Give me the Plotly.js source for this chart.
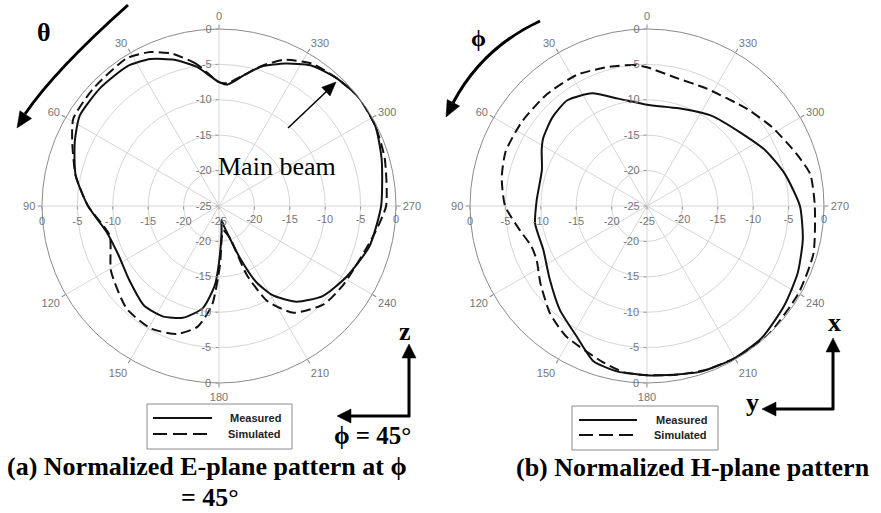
<!DOCTYPE html>
<html><head><meta charset="utf-8">
<script src="https://cdn.plot.ly/plotly-3.0.1.min.js"></script>
<style>html,body{margin:0;padding:0;background:#fff;}#chart{width:881px;height:513px;}</style>
</head><body><div id="chart"></div>
<script>
// ---------- data (dB, normalized) ----------
const thetaEMeasured = [0, 5, 9, 17, 25, 33, 45, 57, 66, 78, 90, 103, 116, 129, 143, 153, 162, 171, 177, 181, 186, 190, 194, 197, 202, 206, 211, 219, 229, 241, 255, 270, 286, 297, 308, 318, 327, 335, 343, 349, 356, 360];
const rEMeasured     = [-7.5, -6.3, -5.1, -3.4, -2.1, -1.4, -1.35, -1.55, -2.7, -4.3, -6.5, -8.7, -9.2, -8.6, -7.4, -7.5, -8.4, -10.4, -13.8, -18, -21.5, -23, -22, -21, -17, -13.1, -10.3, -7.6, -5.6, -4.4, -3.0, -2.1, -1.1, -0.2, 0, -0.5, -1.3, -2.8, -4.4, -6.15, -7.8, -7.5];
const thetaESimulated = [0, 9, 17, 24, 32, 47, 59, 66, 78, 90, 105, 121, 138, 151, 162, 170, 176, 181, 185, 190, 195, 199, 202, 207, 215, 227, 238, 259, 270, 286, 297, 308, 318, 327, 336, 343, 349, 356, 360];
const rESimulated     = [-7.5, -4.7, -2.5, -1.2, -0.4, -0.7, -1.0, -2.3, -4.3, -6.5, -9.0, -7.2, -5.5, -5.2, -6.0, -7.7, -11, -16.7, -20.5, -21.5, -21, -20.2, -14.5, -9.9, -6.6, -4.7, -4.2, -2.8, -1.4, -0.65, -0.2, 0, -0.5, -1.0, -2.4, -4.3, -6.1, -7.6, -7.5];

const phiHMeasured = [0, 15, 26, 37, 47, 57, 62, 71, 87, 99, 113, 127, 140, 152, 161, 170, 180, 187, 198, 210, 221, 234, 246, 258, 270, 283, 295, 309, 324, 342, 360];
const rHMeasured   = [-10.7, -9.3, -7.3, -6.3, -6.7, -7.5, -8.15, -9.3, -9.4, -9.0, -9.1, -7.8, -5.85, -4.0, -1.8, -1.25, -1.1, -0.95, -0.4, -0.2, -0.3, -1.05, -1.7, -2.5, -3.4, -5.0, -6.5, -8.3, -9.3, -10.5, -10.7];
const phiHSimulated = [0, 5, 16, 28, 42, 56, 69, 79, 90, 101, 109, 116, 126, 138, 148, 164, 172, 180, 190, 200, 210, 223, 240, 254, 270, 281, 289, 302, 314, 333, 348, 360];
const rHSimulated   = [-5.4, -5.0, -4.6, -4.0, -3.8, -3.7, -3.6, -4.1, -4.95, -6.75, -7.7, -7.65, -6.4, -4.55, -3.35, -2.1, -1.3, -1.1, -0.8, -0.4, -0.2, 0, -0.3, -0.55, -1.3, -1.5, -2.6, -4.1, -5.3, -6.4, -6.4, -5.4];

const angleTicks = [0, 30, 60, 90, 120, 150, 180, 210, 240, 270, 300, 330];
const angleLabels = ['0', '30', '60', '90', '120', '150', '180', '210', '240', '270', '300', '330'];
const radialTicks = [-25, -20, -15, -10, -5, 0];
const radialLabels = ['-25', '-20', '-15', '-10', '-5', '0'];
const radialTicksNoCenter = [-20, -15, -10, -5, 0];
const radialLabelsNoCenter = ['-20', '-15', '-10', '-5', '0'];

const seriesNames = ['Measured', 'Simulated'];

// ---------- layout helpers ----------
const W = 881, H = 513;
const px = x => x / W, py = y => 1 - y / H;
const GRAY = '#757575';
const tickFont = {family: 'Liberation Sans, Arial, sans-serif', size: 11, color: GRAY};

const domLeft  = {x: [px(42), px(396)], y: [py(383), py(29)]};
const domRight = {x: [px(470), px(824)], y: [py(383), py(29)]};

function mainPolar(dom) {
  return {
    domain: dom, bgcolor: '#ffffff',
    angularaxis: {rotation: 90, direction: 'counterclockwise', tickvals: angleTicks, ticktext: angleLabels,
      tickfont: tickFont, showline: true, linecolor: '#8a8a8a', linewidth: 1, gridcolor: '#d6d6d6', gridwidth: 1,
      ticks: 'outside', ticklen: 4, tickcolor: '#8a8a8a'},
    radialaxis: {range: [-25, 0], angle: 90, side: 'counterclockwise', tickvals: radialTicks, ticktext: radialLabels,
      tickfont: tickFont, showline: false, gridcolor: '#d6d6d6', gridwidth: 1, ticks: 'outside', ticklen: 3, tickcolor: '#999',
      tickangle: 90}
  };
}
function overlayPolar(dom, angle, side, vals, labels, tickangle) {
  return {
    domain: dom, bgcolor: 'rgba(0,0,0,0)',
    angularaxis: {rotation: 90, direction: 'counterclockwise', showgrid: false, showline: false, showticklabels: false, ticks: ''},
    radialaxis: {range: [-25, 0], angle: angle, side: side, tickvals: vals, ticktext: labels, tickfont: tickFont,
      showline: false, showgrid: false, ticks: 'outside', ticklen: 3, tickcolor: '#999', tickangle: tickangle}
  };
}

const solid = {color: '#111', width: 2, dash: 'solid', shape: 'spline', smoothing: 0.6};
const dashed = {color: '#111', width: 2, dash: '10px,5px', shape: 'spline', smoothing: 0.6};

const traces = [
  {type: 'scatterpolar', subplot: 'polar', mode: 'lines', r: rEMeasured, theta: thetaEMeasured, name: seriesNames[0], line: solid},
  {type: 'scatterpolar', subplot: 'polar', mode: 'lines', r: rESimulated, theta: thetaESimulated, name: seriesNames[1], line: dashed},
  {type: 'scatterpolar', subplot: 'polar5', mode: 'lines', r: rHMeasured, theta: phiHMeasured, name: seriesNames[0], line: solid},
  {type: 'scatterpolar', subplot: 'polar5', mode: 'lines', r: rHSimulated, theta: phiHSimulated, name: seriesNames[1], line: dashed}
];
['polar2', 'polar3', 'polar4', 'polar6', 'polar7', 'polar8'].forEach(s => {
  traces.push({type: 'scatterpolar', subplot: s, mode: 'lines', r: [-25], theta: [0], showlegend: false, hoverinfo: 'skip', line: {width: 0}});
});

// decoration helpers (pixel positions)
function tri(tip, from, len, hw) {
  const dx = tip[0] - from[0], dy = tip[1] - from[1], d = Math.hypot(dx, dy);
  const ux = dx / d, uy = dy / d;
  const bx = tip[0] - ux * len, by = tip[1] - uy * len;
  const p1 = [bx - uy * hw, by + ux * hw], p2 = [bx + uy * hw, by - ux * hw];
  return `M${px(tip[0])},${py(tip[1])} L${px(p1[0])},${py(p1[1])} L${px(p2[0])},${py(p2[1])} Z`;
}
function seg(a, b, w, dash, color) {
  return {type: 'line', xref: 'paper', yref: 'paper', x0: px(a[0]), y0: py(a[1]), x1: px(b[0]), y1: py(b[1]),
    line: {color: color || '#000', width: w, dash: dash || 'solid'}};
}
function pathShape(d, fill, w) {
  return {type: 'path', xref: 'paper', yref: 'paper', path: d, fillcolor: fill ? '#000' : 'rgba(0,0,0,0)', line: {color: '#000', width: w}};
}
function quad(a, c, b) {
  return `M${px(a[0])},${py(a[1])} Q${px(c[0])},${py(c[1])} ${px(b[0])},${py(b[1])}`;
}
function box(x0, y0, x1, y1) {
  return {type: 'rect', xref: 'paper', yref: 'paper', x0: px(x0), y0: py(y0), x1: px(x1), y1: py(y1),
    fillcolor: '#fff', line: {color: '#8a8a8a', width: 1}};
}

const legendBoxes = [
  {x0: 147, y0: 404, x1: 292, y1: 449, lx0: 153, lx1: 212, tx: 283, y: [418, 434]},
  {x0: 572, y0: 406, x1: 718, y1: 450, lx0: 579, lx1: 637, tx: 709, y: [420, 435]}
];

const shapes = [
  // theta rotation arrow
  pathShape(quad([128, 5], [55, 70], [25, 114]), false, 3),
  pathShape(tri([17, 128], [55, 70], 16, 7), true, 0.5),
  // phi rotation arrow
  pathShape(quad([540, 21], [482, 48], [453, 103]), false, 3),
  pathShape(tri([446, 117], [482, 48], 16, 7), true, 0.5),
  // main beam arrow
  seg([288, 128], [327, 91], 1.5),
  pathShape(tri([336, 82], [288, 128], 14, 6), true, 0.5),
  // z / phi coordinate arrows (left)
  seg([409, 417], [409, 355], 3),
  pathShape(tri([409, 344], [409, 417], 14, 7), true, 0.5),
  seg([410, 416], [348, 416], 3),
  pathShape(tri([337, 416], [410, 416], 14, 7), true, 0.5),
  // x / y coordinate arrows (right)
  seg([833, 410], [833, 350], 3),
  pathShape(tri([833, 338], [833, 410], 14, 7), true, 0.5),
  seg([834, 409], [773, 409], 3),
  pathShape(tri([762, 409], [834, 409], 14, 7), true, 0.5)
];
legendBoxes.forEach(b => {
  shapes.push(box(b.x0, b.y0, b.x1, b.y1));
  shapes.push(seg([b.lx0, b.y[0]], [b.lx1, b.y[0]], 1.8, 'solid', '#111'));
  shapes.push(seg([b.lx0, b.y[1]], [b.lx1, b.y[1]], 1.8, '14px,6px', '#111'));
});

const serif = 'Liberation Serif, Times New Roman, serif';
function txt(t, x, y, size, bold, anchor, family, color) {
  return {text: t, xref: 'paper', yref: 'paper', x: px(x), y: py(y), xanchor: anchor || 'center', yanchor: 'middle', showarrow: false,
    font: {family: family || serif, size: size, color: color || '#000', weight: bold ? 'bold' : 'normal'}};
}
const legendFont = 'Liberation Sans, Arial, sans-serif';
const annotations = [
  txt('θ', 44, 32, 26, true),
  txt('ϕ', 478, 38, 24, true),
  txt('Main beam', 277, 166, 26, false),
  txt('z', 405, 331, 26, true),
  txt('ϕ = 45°', 372, 435, 25, true),
  txt('x', 834, 322, 26, true),
  txt('y', 752, 402, 26, true),
  txt('(a) Normalized E-plane pattern at ϕ', 207, 466, 26, true),
  txt('= 45°', 210, 497, 26, true),
  txt('(b) Normalized H-plane pattern', 693, 467, 26, true)
];
legendBoxes.forEach(b => {
  annotations.push(txt(seriesNames[0], b.tx, b.y[0], 11, true, 'right', legendFont, '#222'));
  annotations.push(txt(seriesNames[1], b.tx, b.y[1], 11, true, 'right', legendFont, '#222'));
});

const layout = {
  width: W, height: H, margin: {l: 0, r: 0, t: 0, b: 0}, paper_bgcolor: '#fff', showlegend: false,
  polar: mainPolar(domLeft),
  polar2: overlayPolar(domLeft, 270, 'clockwise', radialTicksNoCenter, radialLabelsNoCenter, -90),
  polar3: overlayPolar(domLeft, 180, 'counterclockwise', radialTicks, radialLabels, 180),
  polar4: overlayPolar(domLeft, 0, 'clockwise', radialTicksNoCenter, radialLabelsNoCenter, 0),
  polar5: mainPolar(domRight),
  polar6: overlayPolar(domRight, 270, 'clockwise', radialTicksNoCenter, radialLabelsNoCenter, -90),
  polar7: overlayPolar(domRight, 180, 'counterclockwise', radialTicks, radialLabels, 180),
  polar8: overlayPolar(domRight, 0, 'clockwise', radialTicksNoCenter, radialLabelsNoCenter, 0),
  shapes: shapes,
  annotations: annotations
};

Plotly.newPlot('chart', traces, layout, {staticPlot: true, displayModeBar: false});
</script>
</body></html>
